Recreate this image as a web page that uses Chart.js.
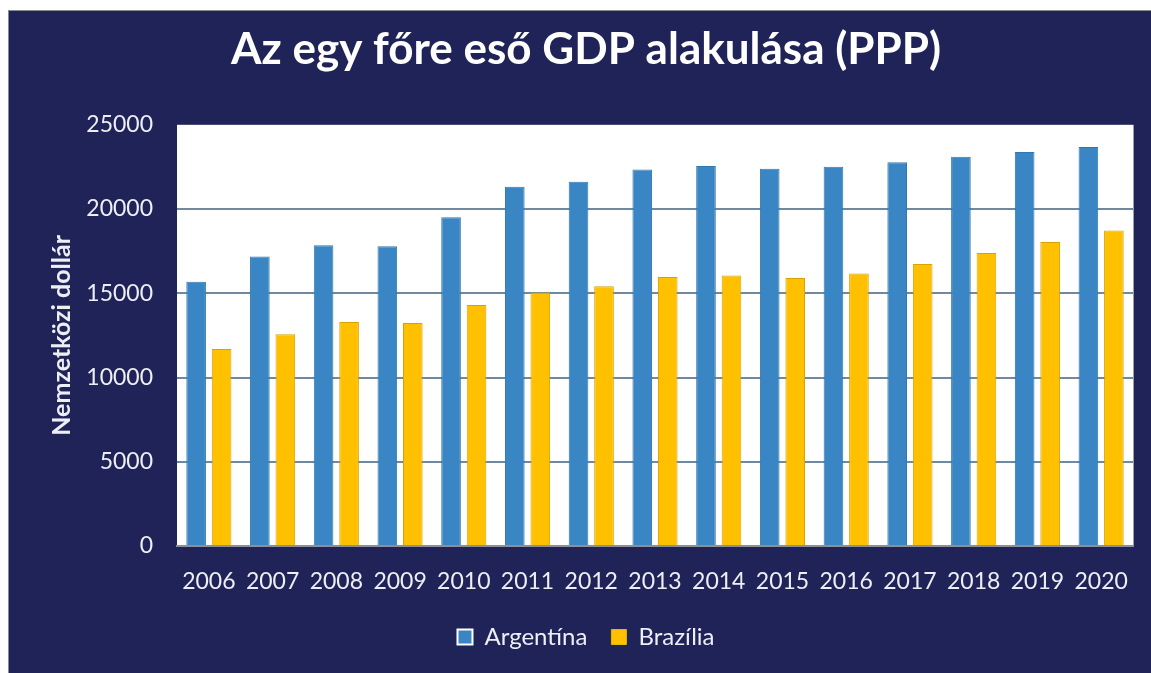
<!DOCTYPE html>
<html>
<head>
<meta charset="utf-8">
<script src="https://cdn.jsdelivr.net/npm/chart.js@4/dist/chart.umd.min.js"></script>
<style>
  html, body { margin: 0; padding: 0; background: #ffffff; }
  body { width: 1151px; height: 673px; position: relative; overflow: hidden; }
  #panel {
    position: absolute;
    left: 8px;
    top: 10px;
    width: 1143px;
    height: 663px;
    background: #1f2357;
    border-top: 1px solid #8a8a95;
    border-left: 1px solid #8a8a95;
    box-sizing: border-box;
  }
  canvas { display: block; }
</style>
</head>
<body>
<div id="panel"><canvas id="chart" width="1142" height="662"></canvas></div>
<script>
'use strict'

const years = ['2006', '2007', '2008', '2009', '2010', '2011', '2012', '2013', '2014', '2015', '2016', '2017', '2018', '2019', '2020']
const argentina = [15690, 17190, 17850, 17790, 19510, 21320, 21620, 22350, 22550, 22390, 22510, 22770, 23100, 23380, 23680]
const brazil = [11700, 12570, 13300, 13240, 14310, 15040, 15420, 15970, 16050, 15910, 16170, 16740, 17390, 18040, 18720]

const titleText = 'Az egy főre eső GDP alakulása (PPP)'
const yAxisTitle = 'Nemzetközi dollár'

const textColor = '#eeeef5'
const fontFamily = 'Lato, "Open Sans", sans-serif'

// white plot background behind the bars
const plotBackground = {
  id: 'plotBackground',
  beforeDraw (chart) {
    const { ctx, chartArea: { left, top, right, bottom } } = chart
    ctx.save()
    ctx.fillStyle = '#ffffff'
    ctx.fillRect(left, top, right - left, bottom - top)
    ctx.strokeStyle = '#9aa0aa'
    ctx.lineWidth = 1
    ctx.beginPath()
    ctx.moveTo(right + 0.5, top)
    ctx.lineTo(right + 0.5, bottom)
    ctx.stroke()
    ctx.restore()
  }
}

Chart.register(plotBackground)

const ctx = document.getElementById('chart').getContext('2d')
new Chart(ctx, {
  type: 'bar',
  data: {
    labels: years,
    datasets: [
      {
        label: 'Argentína',
        data: argentina,
        backgroundColor: '#3a86c4',
        borderColor: '#3278ae',
        borderWidth: 1,
        categoryPercentage: 0.8,
        barPercentage: 0.77
      },
      {
        label: 'Brazília',
        data: brazil,
        backgroundColor: '#ffc000',
        borderColor: '#d8a200',
        borderWidth: 1,
        categoryPercentage: 0.8,
        barPercentage: 0.77
      }
    ]
  },
  options: {
    responsive: false,
    animation: false,
    layout: {
      padding: { left: 30, right: 18, top: 0, bottom: 14 }
    },
    plugins: {
      title: {
        display: true,
        text: titleText,
        color: '#ffffff',
        font: { family: fontFamily, size: 44, weight: 'bold' },
        padding: { top: 12, bottom: 49 }
      },
      legend: {
        position: 'bottom',
        labels: {
          color: textColor,
          font: { family: fontFamily, size: 24 },
          boxWidth: 15,
          boxHeight: 15,
          padding: 24,
          generateLabels (chart) {
            const items = Chart.defaults.plugins.legend.labels.generateLabels(chart)
            items[0].strokeStyle = '#ffffff'
            items[0].lineWidth = 2
            items[1].strokeStyle = '#e6b800'
            items[1].lineWidth = 1
            return items
          }
        }
      },
      tooltip: { enabled: false }
    },
    scales: {
      x: {
        grid: { display: false, drawTicks: false },
        border: { display: true, color: '#8b8f99', width: 2 },
        ticks: {
          color: textColor,
          font: { family: fontFamily, size: 23 },
          padding: 22,
          maxRotation: 0
        },
        afterFit (scale) { scale.height = 55 }
      },
      y: {
        min: 0,
        max: 25000,
        grid: {
          drawTicks: false,
          lineWidth: 2,
          color: (c) => (c.tick && c.tick.value === 25000 ? 'rgba(0,0,0,0)' : '#7088a0')
        },
        border: { display: false },
        ticks: {
          stepSize: 5000,
          color: textColor,
          font: { family: fontFamily, size: 23 },
          padding: 24,
          callback: (value) => String(value)
        },
        title: {
          display: true,
          text: yAxisTitle,
          color: textColor,
          font: { family: fontFamily, size: 25, weight: 'bold' },
          padding: { top: 8, bottom: 0 }
        },
        afterFit (scale) { scale.width = 138 }
      }
    }
  }
})
</script>
</body>
</html>
